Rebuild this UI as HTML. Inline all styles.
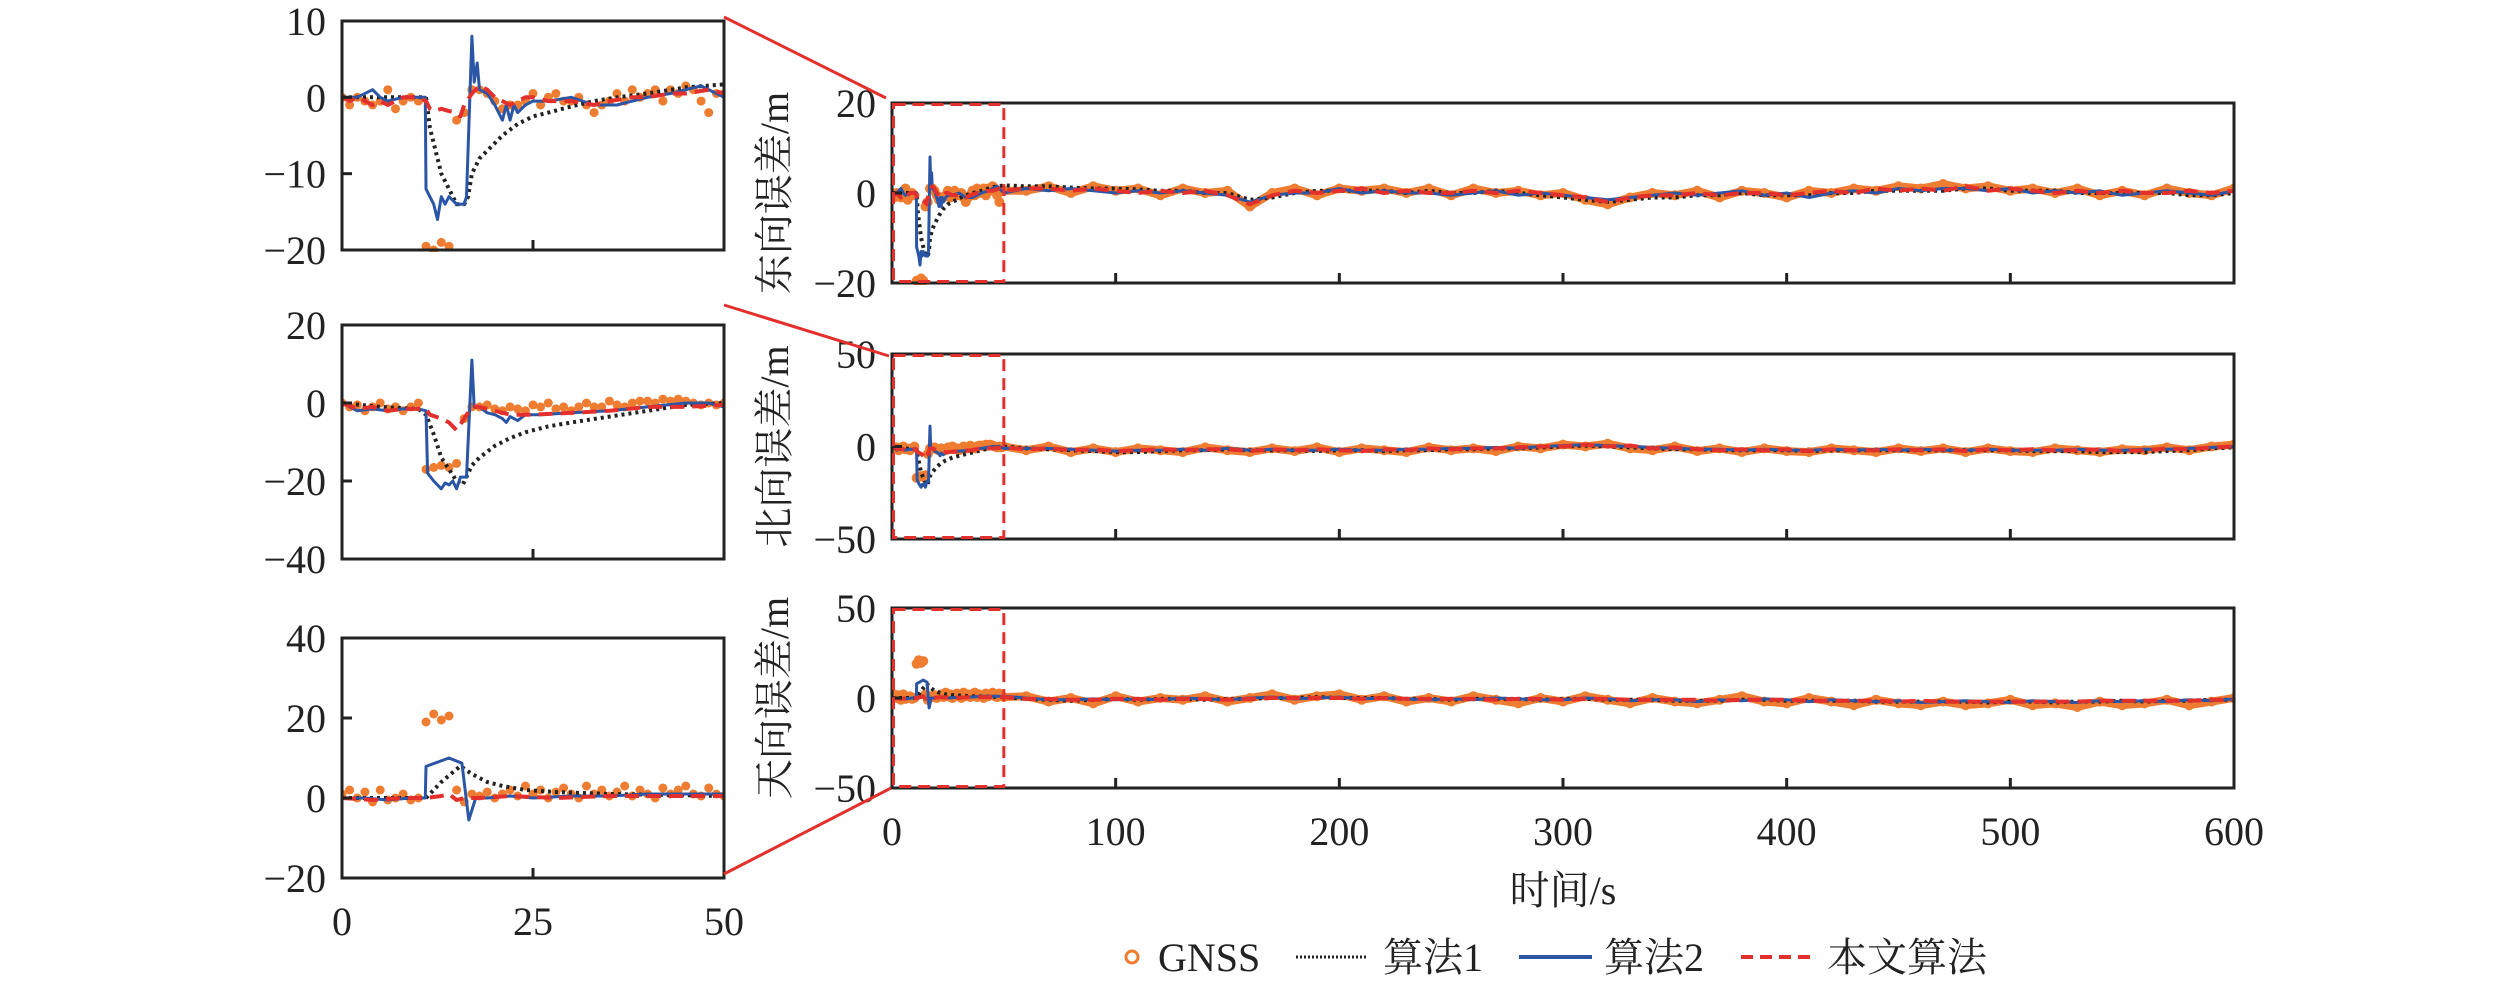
<!DOCTYPE html>
<html><head><meta charset="utf-8">
<style>
html,body{margin:0;padding:0;background:#fff;}
svg{display:block;}
text{font-family:"Liberation Serif","Noto Serif CJK SC",serif;fill:#222;}
</style></head>
<body>
<svg id="chart" width="2520" height="987" viewBox="0 0 2520 987" xmlns="http://www.w3.org/2000/svg">
<g id="layer"></g>
<g id="legend">
  <circle cx="1132" cy="957" r="6" fill="none" stroke="#EE7D31" stroke-width="3"/>
  <text x="1158" y="971" font-size="40">GNSS</text>
  <line x1="1296" y1="957" x2="1367" y2="957" stroke="#222" stroke-width="3" stroke-dasharray="2,2"/>
  <text x="1383" y="971" font-size="40">算法1</text>
  <line x1="1519" y1="957" x2="1592" y2="957" stroke="#2B56A6" stroke-width="4"/>
  <text x="1604" y="971" font-size="40">算法2</text>
  <line x1="1741" y1="957" x2="1812" y2="957" stroke="#E3302C" stroke-width="4" stroke-dasharray="12,7"/>
  <text x="1827" y="971" font-size="40">本文算法</text>
</g>
<text x="1563" y="904" font-size="40" text-anchor="middle">时间/s</text>
</svg>
<script>
// ---------- zoomed-in data (0-50 s) ----------
const eBlueT=[0,2,4,5,6,8,10,10.9,11,12,12.5,13,13.5,14,15,16,16.3,17,17.3,17.7,18,19,20,20.5,21,21.5,22,22.5,23,24,25,27,30,33,36,38,40,43,45,47,50];
const eBlueV=[0,0,1,0,-0.5,0,0,0,-12,-14,-16,-13,-14,-13,-14,-14,-13,8,2,4.5,1,0.5,-1,-2,-3,-1,-3,-1,-2,-1,-0.5,-0.5,0,-1,-1,-0.5,0,0.5,1,1.5,0];
const eBlackT=[0,5,10,11,11.5,12,13,14,15,16,16.5,17,18,19,20,21,23,25,27,30,33,36,40,45,50];
const eBlackV=[0,0,0,0,-4,-6,-10,-12,-14,-14,-13,-10,-8,-7,-6,-5,-3.5,-2.5,-2,-1.2,-0.5,0,0.5,1.3,1.7];
const eRedT=[0,1,2,3,4,5,6,7,8,9,10,11,11.5,12,13,14,15,15.5,16,17,18,19,20,21,22,23,24,25,27,30,33,35,38,40,43,45,48,50];
const eRedV=[0,-0.5,0,-0.5,-1,-0.5,-1,-0.5,0,0,0,-0.5,-1.5,-1.8,-1.5,-1.8,-2,-2.5,-1,0.5,1.5,1,0,-0.5,-1,-0.5,0,0,-0.5,-0.5,-1,-0.5,0,0,0.5,0.5,1,0.5];
const eGnssV=[0,-1,0,-0.5,-1,-0.5,1,-1.5,-0.5,0,-0.5,-19.5,-20,-19,-19.5,-3,-2,1,1,0.5,-0.5,-1.5,-1,-1,-0.5,0.5,-1,0,0.5,-0.5,-0.5,0,-1,-2,-1,-0.5,0.5,-0.5,1,0,0.5,1,-0.5,1,0.5,1.5,1,-0.5,-2,0.5,0.5];

const nBlueT=[0,2,4,6,8,10,11,11.2,12,12.5,13,13.5,14,14.5,15,15.5,16.3,17,17.3,18,19,20,21,21.5,22,23,24,26,30,35,40,45,48,50];
const nBlueV=[0,-2,-1.5,-2,-1.5,-1.5,-2,-18,-20,-21,-22,-20.5,-21,-20,-22,-19,-19,11,-1,-1,-2.5,-3,-4,-5,-3.5,-4.5,-3,-3,-2.5,-2,-1,0,0,-1];
const nBlackT=[0,5,10,11,12,13,14,15,15.8,17,18,20,22,24,27,30,35,40,45,50];
const nBlackV=[0,-1,-1.5,-3,-8,-14,-17,-20,-21,-16,-14,-11,-9,-7.5,-6,-5,-3.5,-2,-0.5,0];
const nRedT=[0,2,4,6,8,10,11,11.5,13,14,15,16,17,18,20,22,25,30,35,40,45,50];
const nRedV=[0,-1.5,-1,-2,-1.5,-1.5,-1.5,-3,-4,-5,-7,-4,-1,-1,-2,-3,-3,-2.5,-2,-1,-1,-0.5];
const nGnssV=[0,-1,-0.5,-2,-1,0,-1.5,-1,-2,-1,0,-17,-16.5,-16,-16.5,-15.5,-4,-1,-1,-0.5,-1.5,-2,-1,-1.5,-2,-0.5,-1,0,-1.5,-1,-2,-1,0,-1,-1,0.5,-0.5,-1,0,0.5,0.5,0,1,0.5,1,0.5,0,-0.5,0,-0.5,0];

const uBlueT=[0,3,6,9,10.9,11,14,15.7,16.6,17.5,19,22,25,30,35,40,45,50];
const uBlueV=[0,0,-0.5,0,0,7.9,10,8.7,-5.5,0,0,0.5,0,0.5,0.5,1,1,1];
const uBlackT=[0,5,10,11,13,15.5,17,19,21,24,28,35,42,50];
const uBlackV=[0,0,0,0,4,8,6,4,3,2,1.5,1,0.8,0.5];
const uRedT=[0,4,8,11,13,14,15,16,18,22,28,35,42,50];
const uRedV=[0,-0.5,0,0,0.5,1,-0.5,0,0,0.5,0,0.5,0.5,0.5];
const uGnssV=[1,2,0,1.5,-1,2,-0.5,0,1,-0.5,0,19,21,19.5,20.5,2,-1,1,0.5,1.5,0,1,2,0.5,3,1,2,0,1.5,2.5,1,0,3,1,2,0.5,1.5,3,0.5,2,1,0,2.5,1,2,3,1,0.5,2.5,1,0.5];

// ---------- full-run data (60-600 s, every 10 s) ----------
const longT=[60,70,80,90,100,110,120,130,140,150,160,170,180,190,200,210,220,230,240,250,260,270,280,290,300,310,320,330,340,350,360,370,380,390,400,410,420,430,440,450,460,470,480,490,500,510,520,530,540,550,560,570,580,590,600];
const eBlackL=[1.5,1.5,1.2,1,1,0.8,0.5,0.5,0,0,-1.5,-1,0,0.5,0.5,0.5,0.5,0,0.5,0,0,0.5,0,-0.5,-1,-1.5,-2,-1.5,-1,-1,-0.5,-0.5,0,-0.5,-0.5,-0.5,0,0,0.5,0.5,0.5,0.5,1,1,0.5,0.5,0.5,0,0,0,0,0,-0.5,-0.5,0];
const eBlueL=[1,0.5,1,0.5,0,0.5,0,0.5,0,-0.5,-2,-0.5,0,0,1,0,0.5,0,0,-0.5,0,0.5,-0.5,0,-0.5,-1,-1.5,-1,-0.5,0,-0.5,0,0.5,-0.5,0,-1,0,0.5,0,1,0.5,1,1,0.5,1,0,0.5,0,0.5,-0.5,0,0.5,0,-0.5,0.5];
const eRedL=[1,1,0.5,1,0.5,0,0.5,0,0.5,-0.5,-2.5,-0.5,0.5,0,0.5,1,0,0.5,0,0,0.5,0,0.5,0,-0.5,-1,-2,-1,-0.5,-0.5,0,-0.5,0,0,-0.5,0,0.5,0,1,0.5,1,0.5,1.5,0.5,1,0.5,0,0.5,0,0.5,0,0,0.5,0,0.5];
const eGnssL=[0.5,1.5,0,1.5,0.5,1,-0.5,1,0,0.5,-3,0,1,-0.5,1,0.5,1,0,1,-0.5,1,0,0.5,-0.5,0,-1.5,-2.5,-1,0,-0.5,0.5,-1,0.5,0,-1,0.5,0,1,0.5,1.5,1,2,1,1.5,0.5,1,0,1,-0.5,0.5,-0.5,1,0,-0.5,1];

const nBlackL=[-1,-1.5,-2,-2.5,-3,-3,-2.5,-2,-2,-1.5,-2,-2,-2,-2.5,-2,-2,-2.5,-2,-2,-1.5,-1.5,-1,-1,-0.5,0,0.5,0,-0.5,-1,-1.5,-1.5,-2,-2,-2,-2,-2.5,-2,-2,-2,-2,-2,-2,-2,-2,-2,-2.5,-2.5,-2.5,-3,-3,-3,-2.5,-2,-1,-0.5];
const nBlueL=[-1,-1,-1.5,-2,-2.5,-2,-2,-1.5,-2,-1,-2,-1.5,-2,-2,-1.5,-2,-2,-1.5,-1.5,-1,-1,-0.5,-1,0,0.5,1,0.5,0,-0.5,-1,-1.5,-1.5,-2,-1.5,-2,-2,-1.5,-2,-1.5,-2,-1.5,-2,-2,-1.5,-2,-2,-2,-1.5,-2,-2,-1.5,-1.5,-1,-0.5,0];
const nRedL=[-1.5,-1,-2,-1.5,-2.5,-2,-1.5,-2,-1.5,-1.5,-2.5,-1.5,-2,-1.5,-2,-2.5,-1.5,-2,-1,-1.5,-1,-1,-0.5,0,0,1,0,0.5,-1,-0.5,-1.5,-2,-1.5,-2,-1.5,-2.5,-1.5,-2,-2,-1.5,-2,-1.5,-2.5,-1.5,-2,-1.5,-2,-2,-1.5,-2.5,-2,-1,-1.5,-0.5,0];
const nGnssL=[-2,0,-3,-1,-3,-1,-2,-3,-0.5,-2,-3,-1,-2.5,-0.5,-3,-1,-2,-3,-0.5,-2,-1,-2.5,0,-1,1,0,1.5,-1,-2,0,-2.5,-1,-3,-1,-2.5,-3,-1,-2,-3,-1,-2.5,-1,-3,-1,-2.5,-3,-1,-2,-3,-1.5,-2,-0.5,-2,0,1];

const uBlackL=[-0.5,-1,-1.5,-1,-0.5,-1,-0.5,-0.5,-1,-0.5,-0.5,0,0,0.5,0,0,0,-0.5,-0.5,-1,-0.5,-0.5,-0.5,-1,-0.5,-0.5,-1,-1,-1,-1.5,-1.5,-1.5,-1,-1,-1.5,-1.5,-1.5,-1.5,-2,-2,-2,-2,-2,-2.5,-2,-2,-2.5,-2,-2,-1.5,-2,-1.5,-1.5,-1,-1];
const uBlueL=[0,-1,-1,-0.5,-1,-0.5,-1,0,-0.5,-1,0,0.5,-0.5,0,0.5,-0.5,0,-0.5,-1,-0.5,-1,0,-0.5,-1,-1,0,-0.5,-1.5,-1,-1,-2,-1,-1.5,-0.5,-1,-2,-1,-1.5,-2,-1.5,-2.5,-2,-1.5,-2,-2.5,-1.5,-2,-2.5,-1.5,-2,-1.5,-2,-1,-1.5,-0.5];
const uRedL=[-0.5,-0.5,-1,-1,-0.5,-0.5,-1,-0.5,-0.5,-1,-0.5,0,0,0,0,-0.5,0,-0.5,-0.5,-0.5,-0.5,-1,-0.5,-0.5,-1,-0.5,-0.5,-1,-1,-1,-1,-1.5,-1,-1,-1,-1.5,-1.5,-1.5,-1.5,-2,-1.5,-2,-2,-2,-2,-2,-2,-2,-1.5,-1.5,-1.5,-1.5,-1.5,-1,-1];
const uGnssL=[1,-2,0,-3,1,-2,0,-1,1,-2,0,2,-1,1,2,-1,1,-2,0,-2,1,-1,-3,0,-2,1,-1,-3,0,-2,-3,-1,1,-2,-3,0,-2,-4,-1,-3,-4,-2,-4,-3,-1,-4,-3,-5,-2,-4,-3,-1,-4,-2,0];

// ---------- drawing ----------
const NS="http://www.w3.org/2000/svg";
const layer=document.getElementById('layer');
const ORANGE="#EE7D31",BLUE="#2B56A6",RED="#E3302C",BLACK="#222";
function mk(tag,attrs,parent){const el=document.createElementNS(NS,tag);for(const k in attrs)el.setAttribute(k,attrs[k]);(parent||layer).appendChild(el);return el;}
function seq(n){return Array.from({length:n},(_,i)=>i);}

function makeAxes(p){
  p.x=v=>p.x0+(v-p.xmin)/(p.xmax-p.xmin)*(p.x1-p.x0);
  p.y=v=>p.y0+(p.ymax-v)/(p.ymax-p.ymin)*(p.y1-p.y0);
  const g=mk('g',{});
  
  
  const cid='clip-'+p.name;
  const cp=mk('clipPath',{id:cid},g);
  mk('rect',{x:p.x0,y:p.y0-2,width:p.x1-p.x0,height:p.y1-p.y0+4},cp);
  p.plot=mk('g',{'clip-path':'url(#'+cid+')'},g);
  p.g=g;
  return p;
}
function finishAxes(p){
  const g=p.g;
  const frame=mk('rect',{x:p.x0,y:p.y0,width:p.x1-p.x0,height:p.y1-p.y0,fill:'none',stroke:BLACK,'stroke-width':3},g);
  
  
  p.yticks.forEach(v=>{
    const yy=p.y(v);
    mk('line',{x1:p.x0,y1:yy,x2:p.x0+10,y2:yy,stroke:BLACK,'stroke-width':3},g);
    const t=mk('text',{x:p.x0-16,y:yy+14,'font-size':40,'text-anchor':'end'},g);
    t.textContent=(v<0?'\u2212'+(-v):String(v));
    
    
  });
  p.xticks.forEach(v=>{
    const xx=p.x(v);
    mk('line',{x1:xx,y1:p.y1,x2:xx,y2:p.y1-10,stroke:BLACK,'stroke-width':3},g);
    if(p.xlabels){
      const t=mk('text',{x:xx,y:p.y1+57,'font-size':40,'text-anchor':'middle'},g);
      t.textContent=String(v);
      
      
    }
  });
  if(p.ylabel){
    const cy=(p.y0+p.y1)/2;
    const t=mk('text',{x:0,y:0,'font-size':40,'text-anchor':'middle',transform:'translate(788,'+cy+') rotate(-90)'},g);
    t.textContent=p.ylabel;
    
    
  }
}
function line(p,T,V,style,name){
  const d=T.map((t,i)=>(i?'L':'M')+p.x(t).toFixed(1)+','+p.y(V[i]).toFixed(1)).join('');
  const el=mk('path',Object.assign({d:d,fill:'none','stroke-linejoin':'round'},style),p.plot);
  
  
}
function dots(p,T,V,r,name,band,bandT,bandV){
  const g=mk('g',{},p.plot);
  
  
  if(band){
    const d=bandT.map((t,i)=>(i?'L':'M')+p.x(t).toFixed(1)+','+p.y(bandV[i]).toFixed(1)).join('');
    mk('path',{d:d,fill:'none',stroke:ORANGE,'stroke-width':band,'stroke-linejoin':'round','stroke-linecap':'round'},g);
  }
  T.forEach((t,i)=>{
    const c=mk('circle',{cx:p.x(t).toFixed(1),cy:p.y(V[i]).toFixed(1),r:r,fill:ORANGE},g);
    
    
  });
}
const gT=seq(51);
const sBlack={stroke:BLACK,'stroke-width':4,'stroke-dasharray':'3,4'};
const sBlue={stroke:BLUE,'stroke-width':3};
const sRed={stroke:RED,'stroke-width':4,'stroke-dasharray':'14,8'};

const sets=[
 {key:'east',label:'东向误差/m',L:[21,250,10,-20,[10,0,-10,-20]],R:[103,283,20,-20,[20,0,-20]],
  bT:eBlueT,bV:eBlueV,kT:eBlackT,kV:eBlackV,rT:eRedT,rV:eRedV,gV:eGnssV,kL:eBlackL,bL:eBlueL,rL:eRedL,gL:eGnssL},
 {key:'north',label:'北向误差/m',L:[325,559,20,-40,[20,0,-20,-40]],R:[354,539,50,-50,[50,0,-50]],
  bT:nBlueT,bV:nBlueV,kT:nBlackT,kV:nBlackV,rT:nRedT,rV:nRedV,gV:nGnssV,kL:nBlackL,bL:nBlueL,rL:nRedL,gL:nGnssL},
 {key:'up',label:'天向误差/m',L:[638,878,40,-20,[40,20,0,-20]],R:[608,788,50,-50,[50,0,-50]],
  bT:uBlueT,bV:uBlueV,kT:uBlackT,kV:uBlackV,rT:uRedT,rV:uRedV,gV:uGnssV,kL:uBlackL,bL:uBlueL,rL:uRedL,gL:uGnssL}
];
sets.forEach((s,idx)=>{
  const zp=makeAxes({name:s.key+'-zoom-panel',x0:342,x1:724,y0:s.L[0],y1:s.L[1],xmin:0,xmax:50,ymax:s.L[2],ymin:s.L[3],yticks:s.L[4],xticks:[0,25,50],xlabels:idx===2});
  dots(zp,gT,s.gV,4.5,s.key+'-zoom-gnss',0);
  line(zp,s.kT,s.kV,sBlack,s.key+'-zoom-alg1');
  line(zp,s.bT,s.bV,sBlue,s.key+'-zoom-alg2');
  line(zp,s.rT,s.rV,sRed,s.key+'-zoom-proposed');
  finishAxes(zp);
  const fp=makeAxes({name:s.key+'-full-panel',x0:892,x1:2234,y0:s.R[0],y1:s.R[1],xmin:0,xmax:600,ymax:s.R[2],ymin:s.R[3],yticks:s.R[4],xticks:[0,100,200,300,400,500,600],xlabels:idx===2,ylabel:s.label});
  dots(fp,gT.concat(longT),s.gV.concat(s.gL),5,s.key+'-full-gnss',8,[50].concat(longT),[s.gV[50]].concat(s.gL));
  line(fp,s.kT.concat(longT),s.kV.concat(s.kL),sBlack,s.key+'-full-alg1');
  line(fp,s.bT.concat(longT),s.bV.concat(s.bL),sBlue,s.key+'-full-alg2');
  line(fp,s.rT.concat(longT),s.rV.concat(s.rL),sRed,s.key+'-full-proposed');
  finishAxes(fp);
  const bx=mk('rect',{x:fp.x(0)+1.5,y:fp.y0+1.5,width:fp.x(50)-fp.x(0)-1.5,height:fp.y1-fp.y0-3,fill:'none',stroke:RED,'stroke-width':3,'stroke-dasharray':'12,7'},fp.g);
  
  
});
[[724,17,886,98],[724,305,889,356],[724,874,891,788]].forEach((c,i)=>{
  const l=mk('line',{x1:c[0],y1:c[1],x2:c[2],y2:c[3],stroke:RED,'stroke-width':3});
  
  
});
</script>
</body></html>
